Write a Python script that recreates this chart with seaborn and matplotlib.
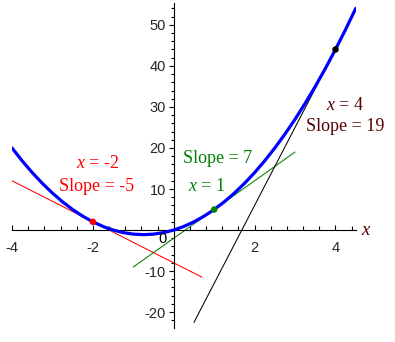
import numpy as np
import pandas as pd
import matplotlib
matplotlib.use("Agg")
import matplotlib.pyplot as plt
import seaborn as sns
from matplotlib.ticker import MultipleLocator, FixedLocator

# ---- data ----
curve_x = [-4, -3.75, -3.5, -3.25, -3, -2.75, -2.5, -2.25, -2, -1.75, -1.5, -1.25,
           -1, -0.75, -0.5, -0.25, 0, 0.25, 0.5, 0.75, 1, 1.25, 1.5, 1.75, 2,
           2.25, 2.5, 2.75, 3, 3.25, 3.5, 3.75, 4, 4.25, 4.5]
curve_y = [20, 16.875, 14, 11.375, 9, 6.875, 5, 3.375, 2, 0.875, 0, -0.625,
           -1, -1.125, -1, -0.625, 0, 0.875, 2, 3.375, 5, 6.875, 9, 11.375, 14,
           16.875, 20, 23.375, 27, 30.875, 35, 39.375, 44, 48.875, 54]

red_x = [-4, 0.7]
red_y = [12, -11.5]
green_x = [-1, 3]
green_y = [-9, 19]
black_x = [0.5, 4.2]
black_y = [-22.5, 47.8]

point_x = [-2, 1, 4]
point_y = [2, 5, 44]
point_colors = ["#ff0000", "#008000", "#000000"]

x_ticks = [-4, -2, 2, 4]
y_ticks = [-20, -10, 10, 20, 30, 40, 50]

# ---- style ----
sns.set_theme(style="white")
plt.rcParams["font.family"] = ["Liberation Sans", "DejaVu Sans"]
plt.rcParams["mathtext.fontset"] = "custom"
plt.rcParams["mathtext.it"] = "Liberation Serif:italic"
plt.rcParams["mathtext.rm"] = "Liberation Serif"

fig = plt.figure(figsize=(3.95, 3.42), dpi=100)
ax = fig.add_axes([12 / 395, (342 - 327.7) / 342, 343.7 / 395, 325 / 342])
ax.set_facecolor("white")

tang = pd.DataFrame({"x": red_x, "y": red_y})
sns.lineplot(data=tang, x="x", y="y", ax=ax, color="#ff0000", lw=0.75, zorder=2)
tang = pd.DataFrame({"x": green_x, "y": green_y})
sns.lineplot(data=tang, x="x", y="y", ax=ax, color="#008000", lw=0.75, zorder=2)
tang = pd.DataFrame({"x": black_x, "y": black_y})
sns.lineplot(data=tang, x="x", y="y", ax=ax, color="#000000", lw=0.75, zorder=2)

cdf = pd.DataFrame({"x": curve_x, "y": curve_y})
sns.lineplot(data=cdf, x="x", y="y", ax=ax, color="#0000ff", lw=2.3, zorder=3, sort=False)

pdf = pd.DataFrame({"x": point_x, "y": point_y, "c": point_colors})
sns.scatterplot(data=pdf, x="x", y="y", hue="c", palette={c: c for c in point_colors},
                ax=ax, s=22, edgecolor="none", legend=False, zorder=4)

ax.set_xlim(-4, 4.5)
ax.set_ylim(-23.8, 55.4)

for s in ["top", "right"]:
    ax.spines[s].set_visible(False)
ax.spines["left"].set_position(("data", 0))
ax.spines["bottom"].set_position(("data", 0))
for s in ["left", "bottom"]:
    ax.spines[s].set_color("black")
    ax.spines[s].set_linewidth(0.8)

ax.xaxis.set_major_locator(FixedLocator(x_ticks))
ax.xaxis.set_minor_locator(MultipleLocator(0.4))
ax.yaxis.set_major_locator(FixedLocator(y_ticks))
ax.yaxis.set_minor_locator(MultipleLocator(2))
ax.set_xticklabels([str(t) for t in x_ticks])
ax.set_yticklabels([str(t) for t in y_ticks])
ax.tick_params(axis="x", which="major", direction="in", length=3.6, width=0.8,
               color="black", pad=8, labelsize=10.5, bottom=True)
ax.tick_params(axis="x", which="minor", direction="in", length=2.9, width=0.8,
               color="black", bottom=True)
ax.tick_params(axis="y", which="major", direction="out", length=3.6, width=0.8,
               color="black", pad=2.0, labelsize=10.5, left=True)
ax.tick_params(axis="y", which="minor", direction="out", length=2.4, width=0.8,
               color="black", left=True)
ax.set_xlabel("")
ax.set_ylabel("")
ax.grid(False)

ax.text(-0.28, -2.1, "0", ha="center", va="center", fontsize=10.5, color="black")

serif = ["Liberation Serif", "DejaVu Serif"]
fs = 13
ax.text(-1.89, 16.1, r"$x$ = -2", ha="center", va="center", fontsize=fs,
        color="#ff0000", family=serif)
ax.text(-1.90, 10.7, "Slope = -5", ha="center", va="center", fontsize=fs,
        color="#ff0000", family=serif)
ax.text(1.08, 17.5, "Slope = 7", ha="center", va="center", fontsize=fs,
        color="#008000", family=serif)
ax.text(0.81, 10.5, r"$x$ = 1", ha="center", va="center", fontsize=fs,
        color="#008000", family=serif)
ax.text(4.23, 30.4, r"$x$ = 4", ha="center", va="center", fontsize=fs,
        color="#550000", family=serif)
ax.text(4.25, 25.3, "Slope = 19", ha="center", va="center", fontsize=fs,
        color="#550000", family=serif)
ax.text(4.77, -0.2, r"$x$", ha="center", va="center", fontsize=13.5,
        color="#550000", family=serif, clip_on=False)

fig.savefig("out.png", dpi=100, facecolor="white")
